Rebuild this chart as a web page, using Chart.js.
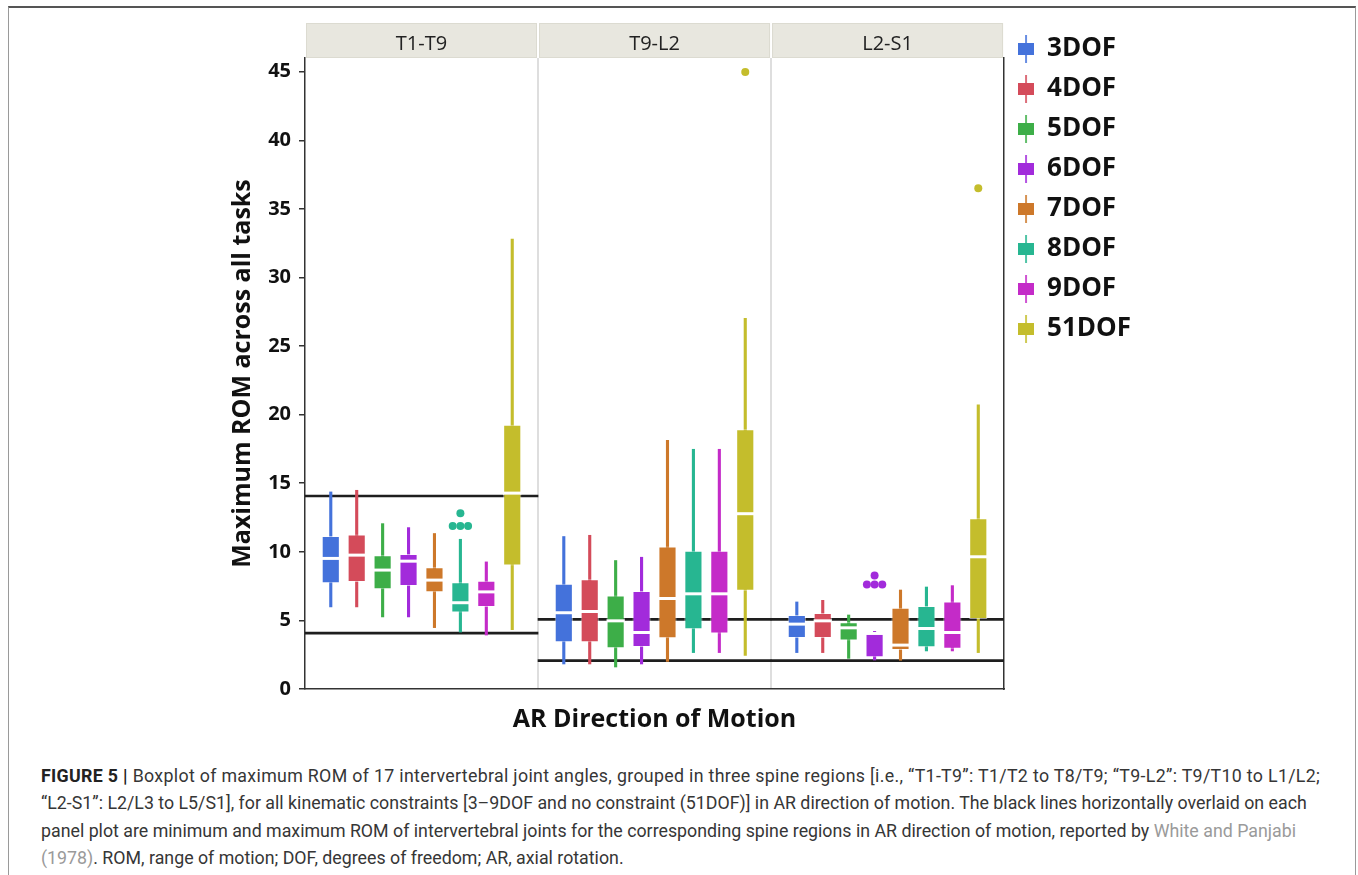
<!DOCTYPE html>
<html><head><meta charset="utf-8">
<script src="https://cdn.jsdelivr.net/npm/chart.js@4.4.1/dist/chart.umd.min.js"></script>
<style>
html,body{margin:0;padding:0;background:#fff;width:1358px;height:875px;overflow:hidden;}
#frame{position:absolute;left:8px;top:6px;width:1348px;height:900px;border:1px solid #9a9a9a;border-top:2px solid #555;box-sizing:border-box;}
#chart{position:absolute;left:0;top:0;}
#caption{position:absolute;left:41px;top:762px;font-family:Roboto,'Liberation Sans',sans-serif;font-size:17.8px;line-height:27.3px;color:#363636;white-space:nowrap;}
#caption b{color:#222;}
#caption .ref{color:#9a9a9a;}
#caption .l1{letter-spacing:0.32px;}
</style></head><body>
<div id="frame"></div>
<canvas id="chart" width="1358" height="745"></canvas>
<div id="caption"><span class="l1"><b>FIGURE 5 |</b> Boxplot of maximum ROM of 17 intervertebral joint angles, grouped in three spine regions [i.e., “T1-T9”: T1/T2 to T8/T9; “T9-L2”: T9/T10 to L1/L2;</span><br>“L2-S1”: L2/L3 to L5/S1], for all kinematic constraints [3–9DOF and no constraint (51DOF)] in AR direction of motion. The black lines horizontally overlaid on each<br>panel plot are minimum and maximum ROM of intervertebral joints for the corresponding spine regions in AR direction of motion, reported by <span class="ref">White and Panjabi</span><br><span class="ref">(1978)</span>. ROM, range of motion; DOF, degrees of freedom; AR, axial rotation.</div>
<script>
// ---------- data ----------
const REGIONS = ['T1-T9', 'T9-L2', 'L2-S1'];
const DOF_LABELS = ['3DOF', '4DOF', '5DOF', '6DOF', '7DOF', '8DOF', '9DOF', '51DOF'];
const DOF_COLORS = ['#4472DB', '#D44B5A', '#3DAE48', '#A22BDB', '#CD782A', '#27B691', '#C42BC8', '#C4BD2C'];
const Y_TICKS = [0, 5, 10, 15, 20, 25, 30, 35, 40, 45];

// rows: DOF, columns: region (T1-T9, T9-L2, L2-S1)
const LOWER_WHISKER = [
  [5.96, 1.80, 2.63],
  [5.96, 1.80, 2.63],
  [5.23, 1.58, 2.21],
  [5.23, 1.80, 2.09],
  [4.45, 1.99, 2.07],
  [4.13, 2.63, 2.75],
  [3.91, 2.63, 2.75],
  [4.30, 2.43, 2.63]
];
const Q1 = [
  [7.71, 3.40, 3.72],
  [7.80, 3.40, 3.72],
  [7.27, 2.97, 3.53],
  [7.51, 3.06, 2.31],
  [7.05, 3.70, 2.84],
  [5.57, 4.35, 3.04],
  [5.98, 4.04, 2.94],
  [9.00, 7.17, 5.10]
];
const MEDIAN = [
  [9.41, 5.45, 4.62],
  [9.65, 5.54, 4.86],
  [8.56, 4.86, 4.35],
  [9.21, 4.01, 3.94],
  [7.83, 6.49, 3.09],
  [6.18, 6.83, 4.30],
  [6.97, 6.83, 4.01],
  [14.17, 12.67, 9.53]
];
const Q3 = [
  [11.16, 7.68, 5.40],
  [11.26, 8.00, 5.54],
  [9.75, 6.81, 4.86],
  [9.85, 7.15, 4.13],
  [8.87, 10.38, 5.93],
  [7.78, 10.07, 6.05],
  [7.90, 10.07, 6.37],
  [19.26, 18.94, 12.45]
];
const UPPER_WHISKER = [
  [14.39, 11.14, 6.37],
  [14.51, 11.23, 6.49],
  [12.08, 9.39, 5.42],
  [11.79, 9.63, 4.23],
  [11.36, 18.16, 7.24],
  [10.94, 17.50, 7.46],
  [9.29, 17.50, 7.56],
  [32.82, 27.04, 20.74]
];
const OUTLIER_REGION = [0, 0, 0, 0, 1, 2, 2, 2, 2, 2];
const OUTLIER_DOF    = [5, 5, 5, 5, 7, 3, 3, 3, 3, 7];
const OUTLIER_VALUE  = [11.89, 11.89, 11.89, 12.81, 44.98, 7.61, 7.61, 7.61, 8.27, 36.5];

// White & Panjabi (1978) min / max ROM per region
const REF_MIN = [4, 2, 2];
const REF_MAX = [14, 5, 5];

// ---------- styling constants ----------
const CAT_PCT = 0.89, BOX_PCT = 0.70, WHISKER_PCT = 0.12, DOT_GAP = 0.033;
Chart.defaults.font.family = "'Open Sans', sans-serif";

// outlier x positions on the region axis (dodged horizontally when values repeat)
const outlierPoints = OUTLIER_VALUE.map((v, i) => {
  const same = OUTLIER_VALUE.map((w, j) => j).filter(j =>
    OUTLIER_REGION[j] === OUTLIER_REGION[i] && OUTLIER_DOF[j] === OUTLIER_DOF[i] && OUTLIER_VALUE[j] === v);
  const k = same.indexOf(i), n = same.length;
  const slot = ((OUTLIER_DOF[i] + 0.5) / DOF_LABELS.length - 0.5) * CAT_PCT;
  return { x: OUTLIER_REGION[i] + slot + (k - (n - 1) / 2) * DOT_GAP, y: v };
});

const GLYPHS = DOF_COLORS.map(col => {
  const c = document.createElement('canvas'); c.width = 16; c.height = 28;
  const g = c.getContext('2d');
  g.fillStyle = col; g.fillRect(7.2, 0, 1.6, 28); g.fillRect(0, 8, 16, 12);
  return c;
});

const datasets = [];
[REF_MIN, REF_MAX].forEach((arr, i) => datasets.push({
  type: 'bar', label: i ? 'ref-max' : 'ref-min', xAxisID: 'x',
  data: arr.map((v, r) => ({ x: r, y: [v, v] })),
  backgroundColor: '#1e1e1e', grouped: false, categoryPercentage: 1, barPercentage: 1,
  minBarLength: 2, order: 10
}));
const BOX_DS = [];
DOF_LABELS.forEach((lab, d) => {
  datasets.push({ type: 'bar', label: lab + ' whisker', stack: 's' + d, xAxisID: 'x',
    data: REGIONS.map((_, r) => ({ x: r, y: [LOWER_WHISKER[d][r], UPPER_WHISKER[d][r]] })),
    backgroundColor: DOF_COLORS[d], categoryPercentage: CAT_PCT, barPercentage: WHISKER_PCT, order: 5 });
  BOX_DS.push(datasets.length);
  datasets.push({ type: 'bar', label: lab, stack: 's' + d, xAxisID: 'x',
    data: REGIONS.map((_, r) => ({ x: r, y: [Q1[d][r], Q3[d][r]] })),
    backgroundColor: DOF_COLORS[d], borderColor: 'rgba(255,255,255,0.55)', borderWidth: 1, borderSkipped: false,
    categoryPercentage: CAT_PCT, barPercentage: BOX_PCT, order: 4 });
  datasets.push({ type: 'bar', label: lab + ' median', stack: 's' + d, xAxisID: 'x',
    data: REGIONS.map((_, r) => ({ x: r, y: [MEDIAN[d][r], MEDIAN[d][r]] })),
    backgroundColor: '#ffffff', minBarLength: 3,
    categoryPercentage: CAT_PCT, barPercentage: BOX_PCT, order: 3 });
});
datasets.push({ type: 'scatter', label: 'outliers', xAxisID: 'x', yAxisID: 'y', data: outlierPoints,
  pointRadius: 4, pointBorderWidth: 0,
  pointBackgroundColor: OUTLIER_DOF.map(d => DOF_COLORS[d]), order: 1 });

const stripPlugin = {
  id: 'strips',
  beforeDraw(chart) {
    const { ctx, chartArea, scales: { x } } = chart;
    const w = x.getPixelForValue(1) - x.getPixelForValue(0);
    ctx.save();
    REGIONS.forEach((_, i) => {
      const c = x.getPixelForValue(i);
      ctx.fillStyle = '#e8e7df';
      ctx.fillRect(c - w / 2 + 1, chartArea.top - 35, w - 2, 35);
      ctx.strokeStyle = '#dcdbd1'; ctx.lineWidth = 1;
      ctx.strokeRect(c - w / 2 + 1.5, chartArea.top - 34.5, w - 3, 34);
    });
    ctx.restore();
  }
};

new Chart(document.getElementById('chart'), {
  type: 'bar',
  data: { labels: REGIONS, datasets },
  plugins: [stripPlugin],
  options: {
    responsive: false, animation: false, events: [],
    layout: { padding: { left: 200, right: 217, top: 22, bottom: 10 } },
    plugins: {
      tooltip: { enabled: false },
      legend: {
        position: 'right', align: 'start',
        labels: {
          usePointStyle: true, boxWidth: 16, padding: 14, color: '#111',
          font: { size: 26, weight: 'bold' },
          generateLabels(chart) {
            return Chart.defaults.plugins.legend.labels.generateLabels(chart)
              .filter(it => BOX_DS.includes(it.datasetIndex))
              .map(it => { const d = BOX_DS.indexOf(it.datasetIndex); it.pointStyle = GLYPHS[d]; it.text = DOF_LABELS[d]; it.lineWidth = 0; return it; });
          }
        }
      }
    },
    scales: {
      x: { type: 'linear', position: 'bottom', stacked: true, offset: false, min: -0.5, max: 2.5,
        afterBuildTicks: s => { s.ticks = [-0.5, 0.5, 1.5, 2.5].map(v => ({ value: v })); },
        grid: { display: true, drawOnChartArea: true, drawTicks: false, offset: false, lineWidth: 2,
          color: c => (c.index === 1 || c.index === 2) ? '#dedede' : 'rgba(0,0,0,0)' },
        border: { display: true, color: '#333', width: 1.5 },
        ticks: { display: false },
        title: { display: true, text: 'AR Direction of Motion', color: '#111', font: { size: 25, weight: 'bold' }, padding: { top: 16, bottom: 0 } } },
      xTop: { type: 'category', position: 'top', offset: true,
        grid: { display: false, drawTicks: false }, border: { display: false },
        ticks: { color: '#222', font: { size: 20 }, padding: 2 },
        afterFit: s => { s.height = 36; } },
      y: { type: 'linear', position: 'left', stacked: false, min: 0, max: 46,
        afterBuildTicks: s => { s.ticks = Y_TICKS.map(v => ({ value: v })); },
        grid: { display: true, drawOnChartArea: false, drawTicks: true, tickLength: 6, color: '#333', lineWidth: 1.5 },
        border: { display: true, color: '#333', width: 1.5 },
        ticks: { color: '#111', font: { size: 20, weight: 'bold' }, padding: 8 },
        title: { display: true, text: 'Maximum ROM across all tasks', color: '#111', font: { size: 25, weight: 'bold' }, padding: { top: 28, bottom: 0 } },
        afterFit: s => { s.width = 105; } },
      yR: { type: 'linear', position: 'right',
        grid: { display: false, drawTicks: false }, ticks: { display: false },
        border: { display: true, color: '#333', width: 1.5 },
        afterFit: s => { s.width = 0; } }
    }
  }
});
</script>
</body></html>
